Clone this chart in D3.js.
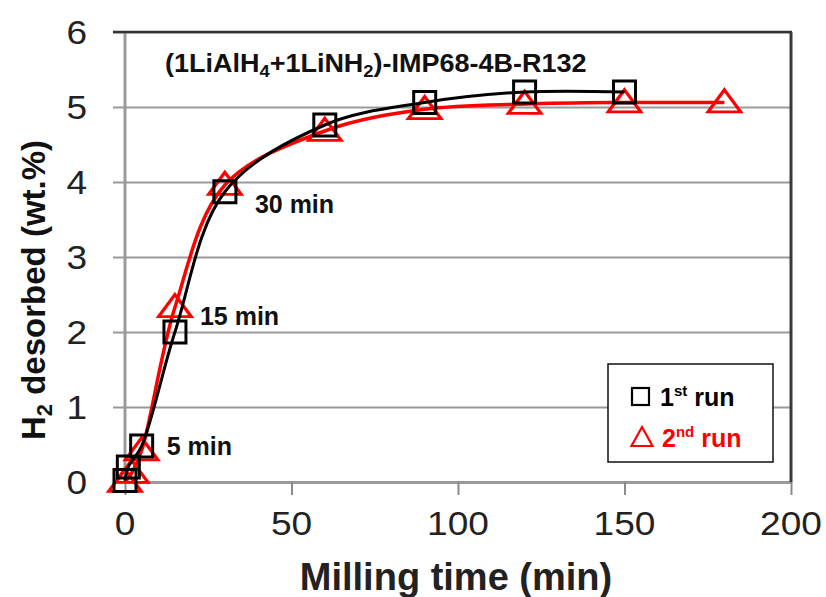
<!DOCTYPE html>
<html>
<head>
<meta charset="utf-8">
<script src="https://cdn.jsdelivr.net/npm/d3@7"></script>
<style>
  body { margin: 0; background: #fff; }
  text { font-family: "Liberation Sans", Arial, sans-serif; }
</style>
</head>
<body>
<svg id="chart" width="826" height="597"></svg>
<script>
// Hydrogen desorbed vs. milling time, two runs
const run1Time = [0, 1, 5, 15, 30, 60, 90, 120, 150];
const run1H2   = [0.02, 0.2, 0.48, 2.0, 3.87, 4.76, 5.06, 5.2, 5.2];
const run2Time = [0, 2, 5, 15, 30, 60, 90, 120, 150, 180];
const run2H2   = [0.0, 0.12, 0.42, 2.33, 3.96, 4.68, 4.97, 5.04, 5.06, 5.06];

const xTicks = [0, 50, 100, 150, 200];
const yTicks = [0, 1, 2, 3, 4, 5, 6];

// annotated milling times (on the 1st run)
const labelTimes = [5, 15, 30];
const labelTexts = ["5 min", "15 min", "30 min"];

const svg = d3.select("#chart");
const L = 125, R = 791, T = 32, B = 482;

const x = d3.scaleLinear().domain([0, 200]).range([L, R]);
const y = d3.scaleLinear().domain([0, 6]).range([B, T]);

// horizontal gridlines + left ticks
const yAxis = svg.append("g").attr("transform", `translate(${L},0)`)
  .call(d3.axisLeft(y).tickValues(yTicks).tickSize(0).tickFormat(""));
yAxis.select(".domain").remove();
yAxis.selectAll(".tick line")
  .attr("x1", -12).attr("x2", R - L)
  .attr("stroke", "#9a9a9a").attr("stroke-width", 2);

// y tick labels
svg.append("g").selectAll("text").data(yTicks).join("text")
  .attr("transform", d => `translate(87,${y(d) + 12}) scale(1.09,1)`)
  .attr("text-anchor", "end")
  .attr("font-size", 34).attr("fill", "#222")
  .text(d => d);

// x axis
const xAxis = svg.append("g").attr("transform", `translate(0,${B})`)
  .call(d3.axisBottom(x).tickValues(xTicks).tickSize(13).tickSizeOuter(0).tickFormat(""));
xAxis.select(".domain").attr("stroke", "#9a9a9a").attr("stroke-width", 3);
xAxis.selectAll(".tick line").attr("stroke", "#8a8a8a").attr("stroke-width", 2);

svg.append("g").selectAll("text").data(xTicks).join("text")
  .attr("transform", d => `translate(${x(d)},535) scale(1.09,1)`)
  .attr("text-anchor", "middle")
  .attr("font-size", 34).attr("fill", "#222")
  .text(d => d);

// plot frame
svg.append("line").attr("x1", L).attr("x2", L).attr("y1", T).attr("y2", B + 1)
  .attr("stroke", "#9a9a9a").attr("stroke-width", 3);
svg.append("line").attr("x1", 113).attr("x2", R + 1).attr("y1", T).attr("y2", T)
  .attr("stroke", "#333").attr("stroke-width", 2.5);
svg.append("line").attr("x1", R).attr("x2", R).attr("y1", T).attr("y2", B)
  .attr("stroke", "#3a3a3a").attr("stroke-width", 3);

// axis titles
svg.append("text")
  .attr("x", 456).attr("y", 590).attr("text-anchor", "middle")
  .attr("font-size", 38).attr("font-weight", "bold").attr("fill", "#222")
  .text("Milling time (min)");

const yt = svg.append("text")
  .attr("transform", "translate(45,290) rotate(-90)")
  .attr("text-anchor", "middle")
  .attr("font-size", 33).attr("font-weight", "bold").attr("fill", "#111");
yt.append("tspan").text("H");
yt.append("tspan").attr("font-size", 22).attr("dy", 7).text("2");
yt.append("tspan").attr("dy", -7).text(" desorbed (wt.%)");

// chart title
const tt = svg.append("text")
  .attr("transform", "translate(165,72) scale(1.08,1)")
  .attr("font-size", 25).attr("font-weight", "bold").attr("fill", "#111");
tt.append("tspan").text("(1LiAlH");
tt.append("tspan").attr("font-size", 17).attr("dy", 5).text("4");
tt.append("tspan").attr("dy", -5).text("+1LiNH");
tt.append("tspan").attr("font-size", 17).attr("dy", 5).text("2");
tt.append("tspan").attr("dy", -5).text(")-IMP68-4B-R132");

// series
const run1 = run1Time.map((t, i) => ({ t, v: run1H2[i] }));
const run2 = run2Time.map((t, i) => ({ t, v: run2H2[i] }));
const line = d3.line().x(d => x(d.t)).y(d => y(d.v)).curve(d3.curveCatmullRom.alpha(0.5));

// 2nd run (red triangles)
svg.append("path").datum(run2).attr("d", line)
  .attr("fill", "none").attr("stroke", "#ff0000").attr("stroke-width", 3.5);
const tri = d3.symbol().type(d3.symbolTriangle).size(330);
svg.append("g").selectAll("path").data(run2).join("path")
  .attr("transform", d => `translate(${x(d.t)},${y(d.v) + 2}) scale(1.18,0.92)`)
  .attr("d", tri)
  .attr("fill", "none").attr("stroke", "#ff0000").attr("stroke-width", 3);

// 1st run (black squares)
svg.append("path").datum(run1).attr("d", line)
  .attr("fill", "none").attr("stroke", "#000").attr("stroke-width", 3);
svg.append("g").selectAll("rect").data(run1).join("rect")
  .attr("x", d => x(d.t) - 11).attr("y", d => y(d.v) - 11)
  .attr("width", 22).attr("height", 22)
  .attr("fill", "none").attr("stroke", "#000").attr("stroke-width", 3);

// milling time annotations
const labelOffset = { 5: [25, 9], 15: [25, -7], 30: [30, 21] };
svg.append("g").selectAll("text").data(labelTimes).join("text")
  .attr("x", t => x(t) + labelOffset[t][0])
  .attr("y", t => y(run1H2[run1Time.indexOf(t)]) + labelOffset[t][1])
  .attr("font-size", 25).attr("font-weight", "bold").attr("fill", "#111")
  .text((t, i) => labelTexts[i]);

// legend
const lg = svg.append("g");
lg.append("rect").attr("x", 608).attr("y", 364).attr("width", 165).attr("height", 98)
  .attr("fill", "#fff").attr("stroke", "#111").attr("stroke-width", 1.5);
lg.append("rect").attr("x", 632).attr("y", 388).attr("width", 17).attr("height", 17)
  .attr("fill", "none").attr("stroke", "#000").attr("stroke-width", 2.2);
lg.append("path").attr("d", "M642,427 L631.5,446 L652.5,446 Z")
  .attr("fill", "none").attr("stroke", "#ff0000").attr("stroke-width", 2.2);

const l1 = lg.append("text").attr("x", 660).attr("y", 406)
  .attr("font-size", 25).attr("font-weight", "bold").attr("fill", "#000");
l1.append("tspan").text("1");
l1.append("tspan").attr("font-size", 15).attr("dy", -10).text("st");
l1.append("tspan").attr("dy", 10).text(" run");

const l2 = lg.append("text").attr("x", 662).attr("y", 447)
  .attr("font-size", 25).attr("font-weight", "bold").attr("fill", "#ff0000");
l2.append("tspan").text("2");
l2.append("tspan").attr("font-size", 15).attr("dy", -10).text("nd");
l2.append("tspan").attr("dy", 10).text(" run");
</script>
</body>
</html>
